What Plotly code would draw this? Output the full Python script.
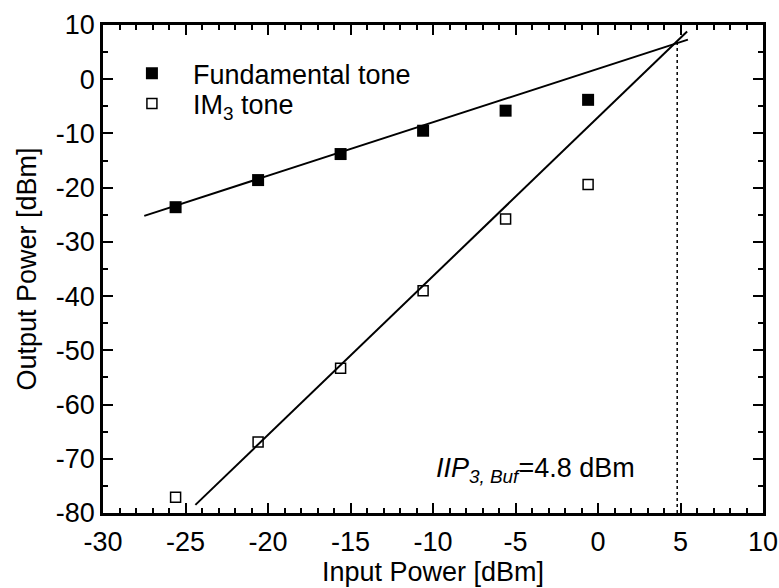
import plotly.graph_objects as go

# Measured two-tone data (input power in dBm)
pin = [-25.6, -20.6, -15.6, -10.6, -5.6, -0.6]
p_fund = [-23.6, -18.6, -13.8, -9.5, -5.8, -3.8]
p_im3 = [-77.1, -66.9, -53.3, -39.0, -25.8, -19.4]

# Linear extrapolations (end points of the fitted lines)
fund_fit_x = [-27.5, 5.45]
fund_fit_y = [-25.2, 7.3]
im3_fit_x = [-24.4, 5.4]
im3_fit_y = [-78.5, 8.8]

# Third-order intercept point
iip3 = 4.8
oip3 = 7.0

x_ticks = [-30, -25, -20, -15, -10, -5, 0, 5, 10]
y_ticks = [10, 0, -10, -20, -30, -40, -50, -60, -70, -80]

FONT = "Liberation Sans, Arial, sans-serif"
fs = 27

fig = go.Figure()

fig.add_trace(go.Scatter(x=fund_fit_x, y=fund_fit_y, mode="lines",
                         line=dict(color="black", width=2), showlegend=False))
fig.add_trace(go.Scatter(x=im3_fit_x, y=im3_fit_y, mode="lines",
                         line=dict(color="black", width=2), showlegend=False))
fig.add_trace(go.Scatter(x=[iip3, iip3], y=[-80, oip3], mode="lines",
                         line=dict(color="black", width=1.5, dash="dot"),
                         showlegend=False))

fig.add_trace(go.Scatter(x=pin, y=p_fund, mode="markers", name="Fundamental tone",
                         legend="legend",
                         marker=dict(symbol="square", size=12, color="black",
                                     line=dict(width=0))))
fig.add_trace(go.Scatter(x=pin, y=p_im3, mode="markers", name="IM<sub>3</sub> tone",
                         legend="legend2",
                         marker=dict(symbol="square-open", size=10, color="black",
                                     line=dict(width=1.5))))

fig.add_annotation(x=-9.95, y=-72.1, xref="x", yref="y", xanchor="left",
                   yanchor="middle", showarrow=False,
                   text="<i>IIP</i><sub><i>3, Buf</i></sub>=4.8 dBm",
                   font=dict(family=FONT, size=fs, color="black"))

axis_common = dict(
    showgrid=False, zeroline=False, showline=True, linecolor="black",
    linewidth=2.5, mirror="allticks", ticks="inside", ticklen=10,
    tickwidth=2, tickcolor="black", automargin=False,
    tickfont=dict(family=FONT, size=fs, color="black"),
)

fig.update_xaxes(range=[-30, 10], tickvals=x_ticks,
                 ticktext=[str(v) for v in x_ticks],
                 ticklabelstandoff=3,
                 minor=dict(ticks="inside", dtick=1, ticklen=5, tickwidth=2,
                            tickcolor="black"),
                 title=dict(text="Input Power [dBm]", standoff=4,
                            font=dict(family=FONT, size=fs, color="black")),
                 **axis_common)
fig.update_yaxes(range=[-80, 10], tickvals=y_ticks,
                 ticktext=[str(v) for v in y_ticks],
                 minor=dict(ticks="inside", dtick=5, ticklen=5, tickwidth=2,
                            tickcolor="black"),
                 title=dict(text="Output Power [dBm]", standoff=12,
                            font=dict(family=FONT, size=fs, color="black")),
                 **axis_common)

legend_common = dict(xanchor="left", yanchor="middle", bgcolor="rgba(0,0,0,0)",
                     itemwidth=72, font=dict(family=FONT, size=fs, color="black"))

fig.update_layout(
    width=779, height=588,
    margin=dict(l=103, r=16, t=25, b=75),
    paper_bgcolor="white", plot_bgcolor="white",
    font=dict(family=FONT, size=fs, color="black"),
    legend=dict(x=0.012, y=0.900, **legend_common),
    legend2=dict(x=0.012, y=0.838, **legend_common),
)

fig.write_html("out.html")
